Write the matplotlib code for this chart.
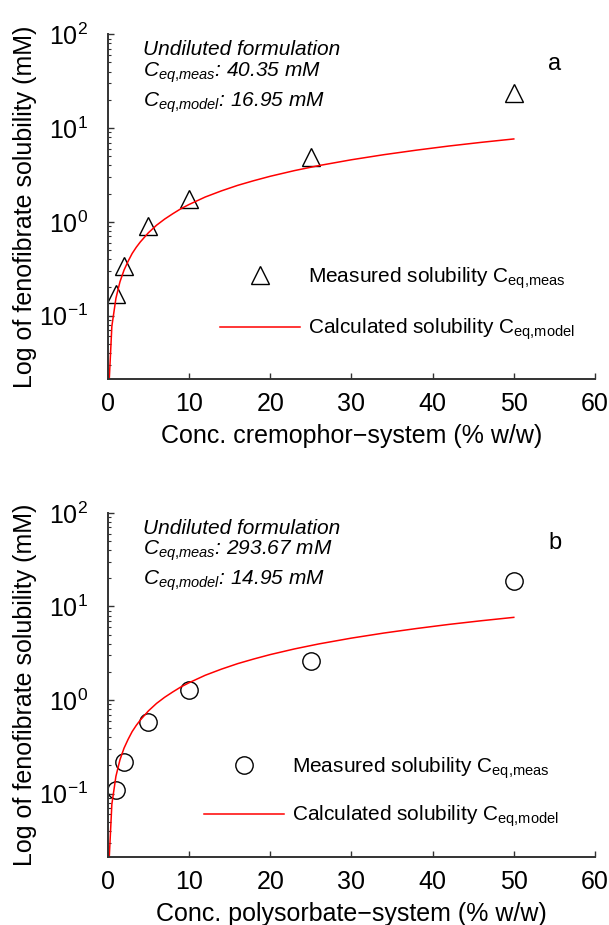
import numpy as np
import matplotlib
matplotlib.use('Agg')
import matplotlib.pyplot as plt

plt.rcParams['font.family'] = ['Liberation Sans', 'DejaVu Sans']
plt.rcParams['mathtext.fontset'] = 'custom'
plt.rcParams['mathtext.rm'] = 'Liberation Sans'
plt.rcParams['mathtext.it'] = 'Liberation Sans:italic'
plt.rcParams['mathtext.bf'] = 'Liberation Sans:bold'

# data ----------------------------------------------------------------
conc_a = [1, 2, 5, 10, 25, 50]                 # cremophor-system (% w/w)
meas_a = [0.17, 0.34, 0.90, 1.74, 4.97, 23.7]  # measured (mM)

conc_b = [1, 2, 5, 10, 25, 50]                 # polysorbate-system (% w/w)
meas_b = [0.108, 0.22, 0.58, 1.28, 2.6, 18.9]

# calculated solubility curve
conc_model = [0.1, 0.5, 1, 1.5, 2, 2.5, 3, 3.5, 4, 5, 6, 7, 8, 9, 10, 12, 14, 16, 18,
              20, 23, 26, 30, 34, 38, 42, 46, 50]
model_a = [0.015, 0.077, 0.153, 0.23, 0.306, 0.38, 0.46, 0.535, 0.61, 0.765, 0.92,
           1.07, 1.22, 1.38, 1.53, 1.84, 2.14, 2.45, 2.75, 3.06, 3.52, 3.98, 4.59,
           5.2, 5.81, 6.43, 7.04, 7.65]
model_b = [0.015, 0.077, 0.153, 0.23, 0.306, 0.38, 0.46, 0.535, 0.61, 0.765, 0.92,
           1.07, 1.22, 1.38, 1.53, 1.84, 2.14, 2.45, 2.75, 3.06, 3.52, 3.98, 4.59,
           5.2, 5.81, 6.43, 7.04, 7.65]

ceq_meas = ['40.35', '293.67']
ceq_model = ['16.95', '14.95']
xlabels = ['Conc. cremophor\u2212system (% w/w)', 'Conc. polysorbate\u2212system (% w/w)']
panel = ['a', 'b']
markers = ['^', 'o']

fig = plt.figure(figsize=(6.09, 9.25), dpi=100)
ax1 = fig.add_axes([0.177, 0.590, 0.800, 0.373])
ax2 = fig.add_axes([0.177, 0.0735, 0.800, 0.372])

sets = [(ax1, conc_a, meas_a, model_a, (0.23, 0.33), 1.25),
        (ax2, conc_b, meas_b, model_b, (0.197, 0.295), 1.1)]

for i, (ax, cx, cy, my, leg_pos, lsp) in enumerate(sets):
    ms = 13 if markers[i] == '^' else 12.5
    ax.plot(cx, cy, linestyle='none', marker=markers[i], markersize=ms,
            markerfacecolor='none', markeredgecolor='k', markeredgewidth=1.0,
            label=r'Measured solubility C$_{\mathrm{eq{,}meas}}$')
    ax.plot(conc_model, my, color='red', linewidth=1.1,
            label=r'Calculated solubility C$_{\mathrm{eq{,}model}}$')

    ax.set_yscale('log')
    ax.set_xlim(0, 60)
    ax.set_ylim(0.021, 100)
    ax.set_xticks(range(0, 61, 10))

    ax.spines['right'].set_visible(False)
    ax.spines['top'].set_visible(False)
    for s in ['left', 'bottom']:
        ax.spines[s].set_linewidth(1.4)
        ax.spines[s].set_color('#333333')
    ax.tick_params(which='major', direction='in', length=4, width=1.0,
                   labelsize=18, colors='#333333', labelcolor='k')
    ax.tick_params(which='minor', direction='in', length=2.5, width=0.8, colors='#333333')
    ax.tick_params(axis='y', which='major', pad=14)
    ax.tick_params(axis='x', which='major', pad=9)

    ax.set_xlabel(xlabels[i], fontsize=18)
    ax.set_ylabel('Log of fenofibrate solubility (mM)', fontsize=18)
    ax.yaxis.set_label_coords(-0.145, 0.5)
    ax.xaxis.set_label_coords(0.5, -0.13)

    # text block in upper left
    ax.text(0.072, 0.939, 'Undiluted formulation', style='italic', fontsize=15,
            transform=ax.transAxes, va='baseline')
    ax.text(0.072, 0.878, r'$C_{eq{,}meas}$: ' + ceq_meas[i] + ' mM', style='italic',
            fontsize=15, transform=ax.transAxes, va='baseline')
    ax.text(0.072, 0.791, r'$C_{eq{,}model}$: ' + ceq_model[i] + ' mM', style='italic',
            fontsize=15, transform=ax.transAxes, va='baseline')
    ax.text(0.918, 0.896, panel[i], fontsize=17, transform=ax.transAxes,
            ha='center', va='baseline')

    ax.legend(loc='upper left', bbox_to_anchor=leg_pos, frameon=False, fontsize=15,
              handlelength=3.85, handletextpad=0.4, borderpad=0, borderaxespad=0,
              labelspacing=lsp, numpoints=1)

fig.savefig('out.png', dpi=100)
